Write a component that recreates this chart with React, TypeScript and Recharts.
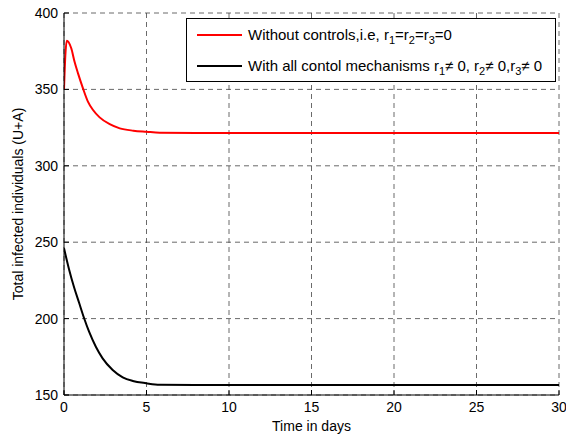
import { LineChart, Line, XAxis, YAxis, CartesianGrid } from 'recharts'

const tRed = [0, 0.08, 0.17, 0.44, 0.64, 0.85, 1.15, 1.45, 1.76, 2.16, 2.77, 3.38, 4.2, 5.0, 5.8, 8, 30]
const redValues = [350, 372, 381.9, 376.9, 368.1, 360.5, 350.7, 342, 336.5, 331.7, 327.2, 324.5, 323, 322.3, 321.7, 321.5, 321.5]

const tBlack = [0, 0.3, 0.61, 0.91, 1.22, 1.52, 1.93, 2.34, 2.95, 3.56, 4.17, 4.98, 5.8, 8, 30]
const blackValues = [246, 232.5, 220.5, 210.5, 200.2, 191.4, 181.6, 174, 166.4, 161.6, 159.2, 157.7, 156.7, 156.6, 156.6]

const xTicks = [0, 5, 10, 15, 20, 25, 30]
const yTicks = [150, 200, 250, 300, 350, 400]

const redData = tRed.map((t, i) => ({ t, v: redValues[i] }))
const blackData = tBlack.map((t, i) => ({ t, v: blackValues[i] }))

const FONT = '"Liberation Sans", Arial, sans-serif'
const tickStyle = { fontSize: 14, fill: '#000', fontFamily: FONT }

function YLabel({ viewBox }: any) {
  const cy = viewBox.y + viewBox.height / 2
  return (
    <text
      x={23}
      y={cy}
      transform={`rotate(-90 23 ${cy})`}
      textAnchor="middle"
      fontSize={14}
      fontFamily={FONT}
      fill="#000"
    >
      Total infected individuals (U+A)
    </text>
  )
}

function Sub({ children }: { children: string }) {
  return <span style={{ fontSize: 11, position: 'relative', top: 4 }}>{children}</span>
}

function LegendBox() {
  const row = { display: 'flex', alignItems: 'center', height: 31 }
  const swatch = (c: string) => (
    <span style={{ display: 'inline-block', width: 45, height: 0, borderTop: `2px solid ${c}`, marginRight: 6 }} />
  )
  return (
    <div
      style={{
        position: 'absolute',
        left: 186,
        top: 18,
        width: 370,
        height: 64,
        background: '#fff',
        border: '1px solid #000',
        boxSizing: 'border-box',
        fontFamily: FONT,
        fontSize: 15,
        color: '#000',
        paddingLeft: 10,
        whiteSpace: 'nowrap',
      }}
    >
      <div style={row}>
        {swatch('#ff0000')}
        <span>
          Without controls,i.e, r<Sub>1</Sub>=r<Sub>2</Sub>=r<Sub>3</Sub>=0
        </span>
      </div>
      <div style={row}>
        {swatch('#000')}
        <span>
          With all contol mechanisms r<Sub>1</Sub>≠ 0, r<Sub>2</Sub>≠ 0,r<Sub>3</Sub>≠ 0
        </span>
      </div>
    </div>
  )
}

export default function App() {
  return (
    <div style={{ position: 'absolute', left: 0, top: 0, width: 566, height: 435, background: '#fff' }}>
      <LineChart width={566} height={435} margin={{ top: 13, right: 7, left: 0, bottom: 0 }}>
        <CartesianGrid stroke="#444" strokeDasharray="5 4" strokeWidth={0.8} />
        <XAxis
          dataKey="t"
          type="number"
          domain={[0, 30]}
          ticks={xTicks}
          height={40}
          tickSize={-5}
          tickMargin={12}
          tick={tickStyle}
          stroke="#000"
          allowDataOverflow
          label={{ value: 'Time in days', position: 'insideBottom', offset: 4, fontSize: 14, fill: '#000', fontFamily: FONT }}
        />
        <XAxis
          xAxisId="top"
          orientation="top"
          type="number"
          domain={[0, 30]}
          ticks={xTicks}
          height={0}
          tickSize={-5}
          tickFormatter={() => ''}
          stroke="#000"
          allowDataOverflow
        />
        <YAxis
          type="number"
          domain={[150, 400]}
          ticks={yTicks}
          width={64}
          tickSize={-5}
          tickMargin={11}
          tick={tickStyle}
          stroke="#000"
          allowDataOverflow
          label={{ content: YLabel }}
        />
        <YAxis
          yAxisId="right"
          orientation="right"
          type="number"
          domain={[150, 400]}
          ticks={yTicks}
          width={0}
          tickSize={-5}
          tickFormatter={() => ''}
          stroke="#000"
          allowDataOverflow
        />
        <Line data={redData} dataKey="v" type="monotone" stroke="#ff0000" strokeWidth={2} dot={false} isAnimationActive={false} />
        <Line data={blackData} dataKey="v" type="monotone" stroke="#000" strokeWidth={2} dot={false} isAnimationActive={false} />
      </LineChart>
      <LegendBox />
    </div>
  )
}
